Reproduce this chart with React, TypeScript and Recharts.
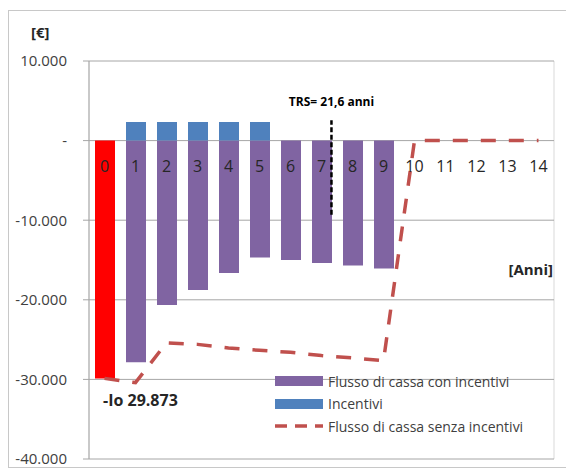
import React from 'react';
import {
  ComposedChart, Bar, Line, XAxis, YAxis, CartesianGrid, LabelList, ReferenceLine,
} from 'recharts';

const years = ['0', '1', '2', '3', '4', '5', '6', '7', '8', '9', '10', '11', '12', '13', '14'];
const investment = [-29873, null, null, null, null, null, null, null, null, null, null, null, null, null, null];
const flowWithIncentives = [null, -27850, -20640, -18760, -16620, -14700, -15000, -15370, -15700, -16080, null, null, null, null, null];
const incentives = [null, 2350, 2350, 2350, 2350, 2350, null, null, null, null, null, null, null, null, null];
const flowWithoutIncentives = [-29873, -30400, -25400, -25600, -26050, -26350, -26600, -27000, -27300, -27640, 0, 0, 0, 0, 0];
const yTicks = [10000, 0, -10000, -20000, -30000, -40000];
const trsPosition = 7.3;
const trsRange = [-9300, 2550];

const chartData = years.map((year, i) => ({
  year,
  investment: investment[i],
  withInc: flowWithIncentives[i],
  incentives: incentives[i],
  withoutInc: flowWithoutIncentives[i],
  zero: 0,
}));

const FONT = '"Open Sans", sans-serif';

const fmt = (v: number) => {
  if (v === 0) return '-';
  const s = String(Math.abs(v)).replace(/\B(?=(\d{3})+(?!\d))/g, '.');
  return v < 0 ? '-' + s : s;
};

const legendItems = [
  { name: 'Flusso di cassa con incentivi', color: '#8064A2', kind: 'bar' },
  { name: 'Incentivi', color: '#4F81BD', kind: 'bar' },
  { name: 'Flusso di cassa senza incentivi', color: '#C0504D', kind: 'line' },
];

// legend drawn as an overlay so it doesn't shrink the plot area
const LegendBox = () => (
  <div style={{ position: 'absolute', left: 266, top: 359, fontFamily: FONT, fontSize: 14, color: '#404040' }}>
    {legendItems.map(item => (
      <div key={item.name} style={{ display: 'flex', alignItems: 'center', height: 22.5 }}>
        <svg width={48} height={12} style={{ marginRight: 5 }}>
          {item.kind === 'bar' ? (
            <rect x={0} y={1} width={48} height={10} fill={item.color} />
          ) : (
            <line x1={0} y1={6} x2={48} y2={6} stroke={item.color} strokeWidth={3.5} strokeDasharray="12 8" />
          )}
        </svg>
        <span style={{ whiteSpace: 'nowrap' }}>{item.name}</span>
      </div>
    ))}
  </div>
);

const YearLabel = (props: any) => {
  const { x, y, value } = props;
  return (
    <text x={x} y={y + 25} textAnchor="middle" dominantBaseline="central" fontSize={16} fontFamily={FONT} fill="#262626">
      {value}
    </text>
  );
};

const InvestmentLabel = (props: any) => {
  const { x, y, width, height, value } = props;
  if (value == null) return null;
  const bottom = Math.max(y, y + height);
  return (
    <text x={x + width / 2 - 2} y={bottom + 22} dominantBaseline="central" fontSize={16} fontWeight="bold" fontFamily={FONT} fill="#262626">
      {'-Io ' + fmt(-value)}
    </text>
  );
};

export default function App() {
  return (
    <div style={{ position: 'relative', width: 564, height: 456, border: '1px solid #c8c8c8', marginTop: 2, fontFamily: FONT }}>
      <ComposedChart
        width={564}
        height={456}
        data={chartData}
        stackOffset="sign"
        margin={{ top: 50, right: 19, bottom: 8, left: 0 }}
      >
        <CartesianGrid horizontal={false} xAxisId="num" stroke="#d9d9d9" />
        <CartesianGrid vertical={false} stroke="#a6a6a6" />
        <XAxis dataKey="year" hide />
        <XAxis
          xAxisId="num"
          type="number"
          domain={[-0.5, 14.5]}
          ticks={years.map((_, i) => i - 0.5).concat([14.5])}
          height={0}
          tick={false}
          axisLine={false}
          tickLine={false}
          interval={0}
          allowDataOverflow
        />
        <YAxis
          width={80}
          domain={[-40000, 10000]}
          ticks={yTicks}
          tickFormatter={fmt}
          axisLine={{ stroke: '#a6a6a6' }}
          tickLine={{ stroke: '#a6a6a6' }}
          tickSize={6}
          tickMargin={16}
          tick={{ fontSize: 15, fill: '#404040', fontFamily: FONT }}
          allowDataOverflow
        />
        <Bar dataKey="investment" stackId="a" fill="#FF0000" barSize={20} legendType="none" isAnimationActive={false}>
          <LabelList dataKey="investment" content={InvestmentLabel} />
        </Bar>
        <Bar dataKey="withInc" name="Flusso di cassa con incentivi" stackId="a" fill="#8064A2" barSize={20} isAnimationActive={false} />
        <Bar dataKey="incentives" name="Incentivi" stackId="a" fill="#4F81BD" barSize={20} isAnimationActive={false} />
        <Line
          dataKey="withoutInc"
          name="Flusso di cassa senza incentivi"
          type="linear"
          stroke="#C0504D"
          strokeWidth={3.5}
          strokeDasharray="15 13"
          dot={false}
          activeDot={false}
          isAnimationActive={false}
        />
        <Line dataKey="zero" stroke="none" dot={false} activeDot={false} legendType="none" isAnimationActive={false}>
          <LabelList dataKey="year" content={YearLabel} />
        </Line>
        <ReferenceLine
          xAxisId="num"
          segment={[{ x: trsPosition, y: trsRange[0] }, { x: trsPosition, y: trsRange[1] }]}
          stroke="#000"
          strokeWidth={2.5}
          strokeDasharray="5 2.5"
          label={{ value: 'TRS= 21,6 anni', position: 'top', offset: 14, fontSize: 12, fontWeight: 'bold', fill: '#000', fontFamily: FONT }}
        />
      </ComposedChart>
      <LegendBox />
      <div style={{ position: 'absolute', left: 22, top: 11, fontSize: 15, fontWeight: 'bold', color: '#262626' }}>[€]</div>
      <div style={{ position: 'absolute', right: 20, top: 248, fontSize: 15, fontWeight: 'bold', color: '#262626' }}>[Anni]</div>
    </div>
  );
}
